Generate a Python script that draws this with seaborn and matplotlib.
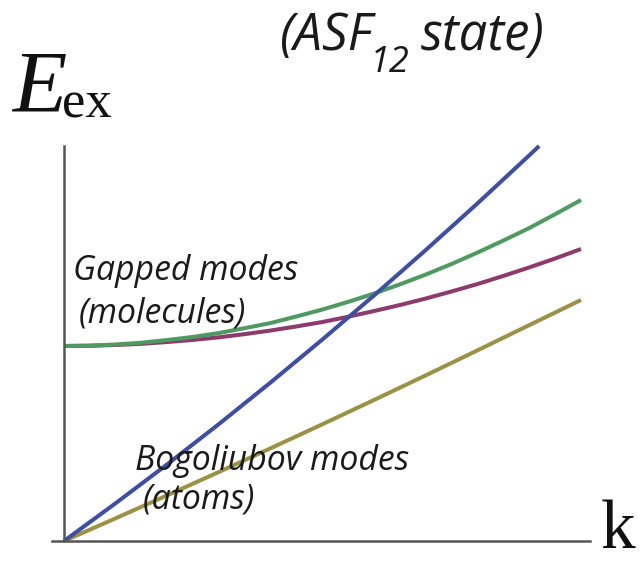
import numpy as np
import pandas as pd
import matplotlib
matplotlib.use("Agg")
import matplotlib.pyplot as plt
import seaborn as sns

# Momentum grid (arbitrary units) and excitation energies of each branch
k_grid = [0.0, 0.05, 0.1, 0.15, 0.2, 0.25, 0.3, 0.35, 0.4, 0.45, 0.5,
          0.55, 0.6, 0.65, 0.7, 0.75, 0.8, 0.85, 0.9, 0.95, 1.0]
gapped_upper = [1.95, 1.954, 1.965, 1.983, 2.01, 2.041, 2.08, 2.129, 2.18, 2.246, 2.315,
                2.392, 2.475, 2.567, 2.665, 2.771, 2.885, 3.005, 3.13, 3.268, 3.41]
gapped_lower = [1.95, 1.952, 1.96, 1.972, 1.99, 2.011, 2.037, 2.069, 2.105, 2.146, 2.19,
                2.243, 2.30, 2.36, 2.425, 2.496, 2.57, 2.651, 2.736, 2.825, 2.92]
bogoliubov_k = [0.0, 0.1, 0.2, 0.3, 0.4, 0.5, 0.6, 0.7, 0.8, 0.9, 1.0]
bogoliubov_E = [0.0, 0.227, 0.458, 0.691, 0.928, 1.168, 1.411, 1.657, 1.907, 2.159, 2.41]
steep_k = [0.0, 0.1, 0.2, 0.3, 0.4, 0.5, 0.6, 0.7, 0.8, 0.9, 0.919]
steep_E = [0.0, 0.378, 0.768, 1.171, 1.587, 2.016, 2.457, 2.911, 3.377, 3.857, 3.95]

series_names = ["bogoliubov", "gapped_lower", "gapped_upper", "steep"]
series_colors = ["#9a9245", "#8c3b6c", "#4f9a60", "#3d4ea3"]

frames = [
    pd.DataFrame({"k": bogoliubov_k, "E": bogoliubov_E, "branch": "bogoliubov"}),
    pd.DataFrame({"k": k_grid, "E": gapped_lower, "branch": "gapped_lower"}),
    pd.DataFrame({"k": k_grid, "E": gapped_upper, "branch": "gapped_upper"}),
    pd.DataFrame({"k": steep_k, "E": steep_E, "branch": "steep"}),
]
df = pd.concat(frames, ignore_index=True)

sns.set_theme(style="white")

W, H = 644, 564
fig = plt.figure(figsize=(W / 100, H / 100), dpi=100)
ax = fig.add_axes([52 / W, 23 / H, (590 - 52) / W, 400 / H])

sns.lineplot(
    data=df, x="k", y="E", hue="branch", hue_order=series_names,
    palette=dict(zip(series_names, series_colors)), estimator=None,
    sort=False, linewidth=2.9, legend=False, ax=ax,
)
for ln in ax.lines:
    ln.set_solid_capstyle("butt")
    ln.set_solid_joinstyle("round")

ax.set_xlim(-0.0232, 1.0174)
ax.set_ylim(0, 4.0)
ax.set_xlabel("")
ax.set_ylabel("")
ax.set_xticks([])
ax.set_yticks([])
for side in ["top", "right"]:
    ax.spines[side].set_visible(False)
ax.spines["left"].set_position(("data", 0))
ax.spines["left"].set_bounds(0, 3.95)
for side in ["left", "bottom"]:
    ax.spines[side].set_color("#555555")
    ax.spines[side].set_linewidth(1.8)


def fx(px):
    return px / W


def fy(py):
    return 1 - py / H


sans = "Open Sans"
ink = "#1a1a1a"
serif = "Liberation Serif"

# Title with a lowered subscript
fig.text(fx(279), fy(50), "(ASF", fontsize=36.5, family=sans, style="italic",
         color=ink, ha="left", va="baseline")
fig.text(fx(370), fy(72), "12", fontsize=26, family=sans, style="italic",
         color=ink, ha="left", va="baseline")
fig.text(fx(545), fy(50), "state)", fontsize=36.5, family=sans, style="italic",
         color=ink, ha="right", va="baseline")

# Axis symbols
fig.text(fx(12), fy(112), "E", fontsize=64, family=serif, style="italic",
         color="#111111", ha="left", va="baseline")
fig.text(fx(62), fy(118), "ex", fontsize=38, family=serif,
         color="#111111", ha="left", va="baseline")
fig.text(fx(601), fy(548), "k", fontsize=50, family=serif,
         color="#111111", ha="left", va="baseline")

# Branch labels
lab = 24.3
fig.text(fx(73), fy(280), "Gapped modes", fontsize=lab, family=sans,
         style="italic", color=ink, ha="left", va="baseline")
fig.text(fx(79), fy(322), "(molecules)", fontsize=lab, family=sans,
         style="italic", color=ink, ha="left", va="baseline")
fig.text(fx(135), fy(470), "Bogoliubov modes", fontsize=lab, family=sans,
         style="italic", color=ink, ha="left", va="baseline")
fig.text(fx(143), fy(508), "(atoms)", fontsize=lab, family=sans,
         style="italic", color=ink, ha="left", va="baseline")

fig.savefig("out.png", dpi=100)
